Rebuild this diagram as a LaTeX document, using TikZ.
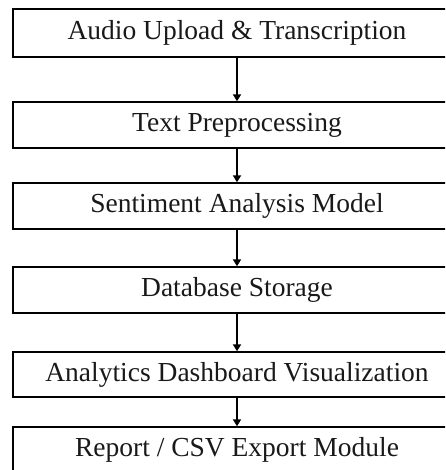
\documentclass[tikz,border=0pt]{standalone}
\usepackage{fontspec}
\setmainfont{Liberation Serif}
\usetikzlibrary{arrows.meta}
\begin{document}
\begin{tikzpicture}[x=1pt,y=-1pt,
  stage/.style={draw, line width=1.4pt, minimum width=448pt, inner sep=0pt,
    font=\fontsize{27.5}{31}\selectfont, text=black!90},
  flow/.style={line width=1.8pt, -{Triangle[width=8pt,length=7pt]}}]
  \useasboundingbox (0,0) rectangle (445,470);
  \clip (0,0) rectangle (445,470);
  \node[stage, minimum height=48pt] (s1) at (237,33)  {Audio Upload \& Transcription};
  \node[stage, minimum height=46pt] (s2) at (237,125) {Text Preprocessing};
  \node[stage, minimum height=46pt] (s3) at (237,206) {Sentiment Analysis Model};
  \node[stage, minimum height=46pt] (s4) at (237,290) {Database Storage};
  \node[stage, minimum height=45pt] (s5) at (237,374.5) {Analytics Dashboard Visualization};
  \node[stage, minimum height=46pt] (s6) at (237,450) {Report / CSV Export Module};
  \draw[flow] (s1.south) -- (s2.north);
  \draw[flow] (s2.south) -- (s3.north);
  \draw[flow] (s3.south) -- (s4.north);
  \draw[flow] (s4.south) -- (s5.north);
  \draw[flow] (s5.south) -- (s6.north);
\end{tikzpicture}
\end{document}
